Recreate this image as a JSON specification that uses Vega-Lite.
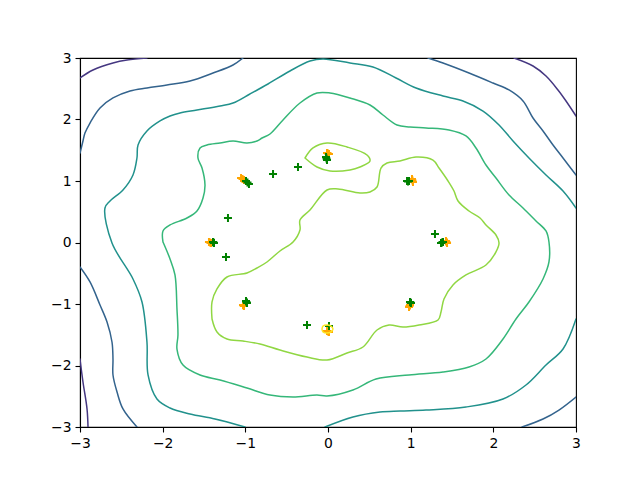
{
  "$schema": "https://vega.github.io/schema/vega-lite/v6.json",
  "width": 496,
  "height": 369,
  "autosize": {"type": "none"},
  "padding": {"left": 80, "top": 58, "right": 64, "bottom": 53},
  "background": "white",
  "config": {
    "view": {"stroke": "black", "strokeWidth": 1.1},
    "axis": {"grid": false, "domainColor": "black", "domainWidth": 1.1, "tickColor": "black", "tickWidth": 1.1, "tickSize": 5, "labelFont": "DejaVu Sans", "labelFontSize": 13.9, "labelColor": "black", "labelPadding": 4, "labelFlush": false, "labelOverlap": false}
  },
  "datasets": {
    "pts": [
      {"k":"o","x":-1.052,"y":1.049},{"k":"o","x":-1.034,"y":1.032},{"k":"o","x":-1.016,"y":1.016},
      {"k":"o","x":-0.012,"y":1.455},{"k":"o","x":0.0,"y":1.447},{"k":"o","x":0.012,"y":1.439},
      {"k":"o","x":1.016,"y":1.033},{"k":"o","x":1.022,"y":1.008},{"k":"o","x":1.028,"y":0.984},
      {"k":"o","x":1.427,"y":0.024},{"k":"o","x":1.434,"y":0.008},{"k":"o","x":1.440,"y":-0.008},
      {"k":"o","x":0.992,"y":-1.016},{"k":"o","x":0.986,"y":-1.032},{"k":"o","x":0.980,"y":-1.049},
      {"k":"o","x":-0.012,"y":-1.439},{"k":"o","x":0.0,"y":-1.447},{"k":"o","x":0.012,"y":-1.455},
      {"k":"o","x":-1.028,"y":-1.016},{"k":"o","x":-1.022,"y":-1.025},{"k":"o","x":-1.016,"y":-1.033},
      {"k":"o","x":-1.440,"y":0.008},{"k":"o","x":-1.428,"y":0.0},{"k":"o","x":-1.415,"y":-0.008},
      {"k":"g","x":-0.992,"y":1.0},{"k":"g","x":-0.974,"y":0.975},{"k":"g","x":-0.956,"y":0.951},
      {"k":"g","x":-0.024,"y":1.390},{"k":"g","x":-0.018,"y":1.365},{"k":"g","x":-0.012,"y":1.341},
      {"k":"g","x":0.956,"y":1.0},{"k":"g","x":0.968,"y":0.992},{"k":"g","x":0.980,"y":1.0},
      {"k":"g","x":1.367,"y":-0.008},{"k":"g","x":1.379,"y":0.0},{"k":"g","x":1.391,"y":0.008},
      {"k":"g","x":0.992,"y":-0.967},{"k":"g","x":0.998,"y":-0.975},{"k":"g","x":1.004,"y":-0.984},
      {"k":"g","x":0.012,"y":-1.358},
      {"k":"g","x":-0.992,"y":-0.951},{"k":"g","x":-0.986,"y":-0.967},{"k":"g","x":-0.980,"y":-0.984},
      {"k":"g","x":-1.391,"y":0.008},{"k":"g","x":-1.385,"y":0.0},{"k":"g","x":-1.379,"y":-0.008},
      {"k":"g","x":-0.665,"y":1.114},{"k":"g","x":-0.363,"y":1.228},
      {"k":"g","x":-1.21,"y":0.398},{"k":"g","x":-1.234,"y":-0.236},
      {"k":"g","x":1.294,"y":0.138},{"k":"g","x":-0.254,"y":-1.341}
    ],
    "cont": [
      {"s":"p1","l":"L1","i":0,"x":-3.0,"y":2.675},{"s":"p1","l":"L1","i":1,"x":-2.843,"y":2.805},{"s":"p1","l":"L1","i":2,"x":-2.601,"y":2.919},{"s":"p1","l":"L1","i":3,"x":-2.431,"y":2.967},{"s":"p1","l":"L1","i":4,"x":-2.190,"y":3.0},
      {"s":"p2","l":"L1","i":0,"x":2.250,"y":3.0},{"s":"p2","l":"L1","i":1,"x":2.480,"y":2.870},{"s":"p2","l":"L1","i":2,"x":2.637,"y":2.707},{"s":"p2","l":"L1","i":3,"x":2.782,"y":2.480},{"s":"p2","l":"L1","i":4,"x":2.879,"y":2.301},{"s":"p2","l":"L1","i":5,"x":3.0,"y":2.057},
      {"s":"p3","l":"L1","i":0,"x":-3.0,"y":-1.894},{"s":"p3","l":"L1","i":1,"x":-2.964,"y":-2.268},{"s":"p3","l":"L1","i":2,"x":-2.915,"y":-2.707},{"s":"p3","l":"L1","i":3,"x":-2.903,"y":-3.0},
      {"s":"b1","l":"L2","i":0,"x":-3.0,"y":1.455},{"s":"b1","l":"L2","i":1,"x":-2.964,"y":1.650},{"s":"b1","l":"L2","i":2,"x":-2.940,"y":1.780},{"s":"b1","l":"L2","i":3,"x":-2.879,"y":1.943},{"s":"b1","l":"L2","i":4,"x":-2.758,"y":2.187},{"s":"b1","l":"L2","i":5,"x":-2.601,"y":2.350},{"s":"b1","l":"L2","i":6,"x":-2.395,"y":2.463},{"s":"b1","l":"L2","i":7,"x":-2.190,"y":2.512},{"s":"b1","l":"L2","i":8,"x":-1.948,"y":2.561},{"s":"b1","l":"L2","i":9,"x":-1.669,"y":2.626},{"s":"b1","l":"L2","i":10,"x":-1.391,"y":2.756},{"s":"b1","l":"L2","i":11,"x":-1.149,"y":2.886},{"s":"b1","l":"L2","i":12,"x":-1.028,"y":3.0},
      {"s":"b2","l":"L2","i":0,"x":1.210,"y":3.0},{"s":"b2","l":"L2","i":1,"x":1.391,"y":2.919},{"s":"b2","l":"L2","i":2,"x":1.706,"y":2.756},{"s":"b2","l":"L2","i":3,"x":1.996,"y":2.593},{"s":"b2","l":"L2","i":4,"x":2.190,"y":2.480},{"s":"b2","l":"L2","i":5,"x":2.359,"y":2.301},{"s":"b2","l":"L2","i":6,"x":2.480,"y":2.024},{"s":"b2","l":"L2","i":7,"x":2.601,"y":1.813},{"s":"b2","l":"L2","i":8,"x":2.722,"y":1.585},{"s":"b2","l":"L2","i":9,"x":2.843,"y":1.374},{"s":"b2","l":"L2","i":10,"x":3.0,"y":1.098},
      {"s":"b3","l":"L2","i":0,"x":-3.0,"y":-0.398},{"s":"b3","l":"L2","i":1,"x":-2.879,"y":-0.642},{"s":"b3","l":"L2","i":2,"x":-2.758,"y":-1.016},{"s":"b3","l":"L2","i":3,"x":-2.673,"y":-1.293},{"s":"b3","l":"L2","i":4,"x":-2.613,"y":-1.618},{"s":"b3","l":"L2","i":5,"x":-2.601,"y":-1.894},{"s":"b3","l":"L2","i":6,"x":-2.601,"y":-2.154},{"s":"b3","l":"L2","i":7,"x":-2.552,"y":-2.431},{"s":"b3","l":"L2","i":8,"x":-2.480,"y":-2.707},{"s":"b3","l":"L2","i":9,"x":-2.311,"y":-3.0},
      {"s":"b4","l":"L2","i":0,"x":2.347,"y":-3.0},{"s":"b4","l":"L2","i":1,"x":2.601,"y":-2.870},{"s":"b4","l":"L2","i":2,"x":2.794,"y":-2.724},{"s":"b4","l":"L2","i":3,"x":3.0,"y":-2.512},
      {"s":"t1","l":"L3","i":0,"x":-1.004,"y":-3.0},{"s":"t1","l":"L3","i":1,"x":-1.367,"y":-2.870},{"s":"t1","l":"L3","i":2,"x":-1.669,"y":-2.789},{"s":"t1","l":"L3","i":3,"x":-1.911,"y":-2.691},{"s":"t1","l":"L3","i":4,"x":-2.069,"y":-2.545},{"s":"t1","l":"L3","i":5,"x":-2.177,"y":-2.154},{"s":"t1","l":"L3","i":6,"x":-2.190,"y":-1.618},{"s":"t1","l":"L3","i":7,"x":-2.250,"y":-0.967},{"s":"t1","l":"L3","i":8,"x":-2.359,"y":-0.593},{"s":"t1","l":"L3","i":9,"x":-2.613,"y":-0.008},{"s":"t1","l":"L3","i":10,"x":-2.698,"y":0.561},{"s":"t1","l":"L3","i":11,"x":-2.637,"y":0.675},{"s":"t1","l":"L3","i":12,"x":-2.480,"y":0.854},{"s":"t1","l":"L3","i":13,"x":-2.359,"y":1.098},{"s":"t1","l":"L3","i":14,"x":-2.311,"y":1.374},{"s":"t1","l":"L3","i":15,"x":-2.298,"y":1.585},{"s":"t1","l":"L3","i":16,"x":-2.190,"y":1.813},{"s":"t1","l":"L3","i":17,"x":-2.032,"y":1.976},{"s":"t1","l":"L3","i":18,"x":-1.911,"y":2.057},{"s":"t1","l":"L3","i":19,"x":-1.790,"y":2.106},{"s":"t1","l":"L3","i":20,"x":-1.585,"y":2.154},{"s":"t1","l":"L3","i":21,"x":-1.306,"y":2.220},{"s":"t1","l":"L3","i":22,"x":-1.149,"y":2.268},{"s":"t1","l":"L3","i":23,"x":-0.944,"y":2.415},{"s":"t1","l":"L3","i":24,"x":-0.726,"y":2.577},{"s":"t1","l":"L3","i":25,"x":-0.460,"y":2.789},{"s":"t1","l":"L3","i":26,"x":-0.218,"y":2.951},{"s":"t1","l":"L3","i":27,"x":-0.060,"y":2.984},{"s":"t1","l":"L3","i":28,"x":0.266,"y":2.919},{"s":"t1","l":"L3","i":29,"x":0.544,"y":2.854},{"s":"t1","l":"L3","i":30,"x":0.823,"y":2.675},{"s":"t1","l":"L3","i":31,"x":1.065,"y":2.512},{"s":"t1","l":"L3","i":32,"x":1.391,"y":2.382},{"s":"t1","l":"L3","i":33,"x":1.633,"y":2.301},{"s":"t1","l":"L3","i":34,"x":1.875,"y":2.138},{"s":"t1","l":"L3","i":35,"x":2.069,"y":1.911},{"s":"t1","l":"L3","i":36,"x":2.238,"y":1.650},{"s":"t1","l":"L3","i":37,"x":2.431,"y":1.374},{"s":"t1","l":"L3","i":38,"x":2.637,"y":1.098},{"s":"t1","l":"L3","i":39,"x":2.843,"y":0.837},{"s":"t1","l":"L3","i":40,"x":3.0,"y":0.561},
      {"s":"t2","l":"L3","i":0,"x":3.0,"y":-1.244},{"s":"t2","l":"L3","i":1,"x":2.843,"y":-1.732},{"s":"t2","l":"L3","i":2,"x":2.637,"y":-1.992},{"s":"t2","l":"L3","i":3,"x":2.395,"y":-2.317},{"s":"t2","l":"L3","i":4,"x":2.117,"y":-2.545},{"s":"t2","l":"L3","i":5,"x":1.669,"y":-2.675},{"s":"t2","l":"L3","i":6,"x":1.186,"y":-2.724},{"s":"t2","l":"L3","i":7,"x":0.871,"y":-2.740},{"s":"t2","l":"L3","i":8,"x":0.629,"y":-2.756},{"s":"t2","l":"L3","i":9,"x":0.302,"y":-2.837},{"s":"t2","l":"L3","i":10,"x":-0.036,"y":-3.0},
      {"s":"g1","l":"L4","i":0,"x":-1.996,"y":0.008},{"s":"g1","l":"L4","i":1,"x":-1.996,"y":0.187},{"s":"g1","l":"L4","i":2,"x":-1.911,"y":0.285},{"s":"g1","l":"L4","i":3,"x":-1.706,"y":0.398},{"s":"g1","l":"L4","i":4,"x":-1.585,"y":0.512},{"s":"g1","l":"L4","i":5,"x":-1.512,"y":0.724},{"s":"g1","l":"L4","i":6,"x":-1.488,"y":0.935},{"s":"g1","l":"L4","i":7,"x":-1.524,"y":1.211},{"s":"g1","l":"L4","i":8,"x":-1.573,"y":1.374},{"s":"g1","l":"L4","i":9,"x":-1.548,"y":1.537},{"s":"g1","l":"L4","i":10,"x":-1.464,"y":1.585},{"s":"g1","l":"L4","i":11,"x":-1.306,"y":1.618},{"s":"g1","l":"L4","i":12,"x":-1.149,"y":1.650},{"s":"g1","l":"L4","i":13,"x":-0.980,"y":1.618},{"s":"g1","l":"L4","i":14,"x":-0.859,"y":1.650},{"s":"g1","l":"L4","i":15,"x":-0.798,"y":1.699},{"s":"g1","l":"L4","i":16,"x":-0.702,"y":1.764},{"s":"g1","l":"L4","i":17,"x":-0.544,"y":1.992},{"s":"g1","l":"L4","i":18,"x":-0.339,"y":2.268},{"s":"g1","l":"L4","i":19,"x":-0.133,"y":2.431},{"s":"g1","l":"L4","i":20,"x":0.024,"y":2.431},{"s":"g1","l":"L4","i":21,"x":0.266,"y":2.350},{"s":"g1","l":"L4","i":22,"x":0.508,"y":2.236},{"s":"g1","l":"L4","i":23,"x":0.665,"y":2.073},{"s":"g1","l":"L4","i":24,"x":0.835,"y":1.911},{"s":"g1","l":"L4","i":25,"x":0.992,"y":1.878},{"s":"g1","l":"L4","i":26,"x":1.186,"y":1.862},{"s":"g1","l":"L4","i":27,"x":1.464,"y":1.829},{"s":"g1","l":"L4","i":28,"x":1.669,"y":1.732},{"s":"g1","l":"L4","i":29,"x":1.790,"y":1.537},{"s":"g1","l":"L4","i":30,"x":1.911,"y":1.260},{"s":"g1","l":"L4","i":31,"x":2.032,"y":1.049},{"s":"g1","l":"L4","i":32,"x":2.190,"y":0.772},{"s":"g1","l":"L4","i":33,"x":2.359,"y":0.561},{"s":"g1","l":"L4","i":34,"x":2.516,"y":0.350},{"s":"g1","l":"L4","i":35,"x":2.637,"y":0.187},{"s":"g1","l":"L4","i":36,"x":2.673,"y":0.008},{"s":"g1","l":"L4","i":37,"x":2.673,"y":-0.317},{"s":"g1","l":"L4","i":38,"x":2.601,"y":-0.593},{"s":"g1","l":"L4","i":39,"x":2.431,"y":-0.967},{"s":"g1","l":"L4","i":40,"x":2.274,"y":-1.244},{"s":"g1","l":"L4","i":41,"x":2.117,"y":-1.569},{"s":"g1","l":"L4","i":42,"x":1.911,"y":-1.894},{"s":"g1","l":"L4","i":43,"x":1.706,"y":-2.024},{"s":"g1","l":"L4","i":44,"x":1.391,"y":-2.106},{"s":"g1","l":"L4","i":45,"x":0.980,"y":-2.154},{"s":"g1","l":"L4","i":46,"x":0.581,"y":-2.220},{"s":"g1","l":"L4","i":47,"x":0.302,"y":-2.398},{"s":"g1","l":"L4","i":48,"x":-0.012,"y":-2.496},{"s":"g1","l":"L4","i":49,"x":-0.133,"y":-2.480},{"s":"g1","l":"L4","i":50,"x":-0.423,"y":-2.512},{"s":"g1","l":"L4","i":51,"x":-0.702,"y":-2.480},{"s":"g1","l":"L4","i":52,"x":-0.980,"y":-2.366},{"s":"g1","l":"L4","i":53,"x":-1.306,"y":-2.236},{"s":"g1","l":"L4","i":54,"x":-1.548,"y":-2.154},{"s":"g1","l":"L4","i":55,"x":-1.754,"y":-1.992},{"s":"g1","l":"L4","i":56,"x":-1.827,"y":-1.732},{"s":"g1","l":"L4","i":57,"x":-1.815,"y":-1.504},{"s":"g1","l":"L4","i":58,"x":-1.827,"y":-1.081},{"s":"g1","l":"L4","i":59,"x":-1.851,"y":-0.528},{"s":"g1","l":"L4","i":60,"x":-1.911,"y":-0.268},{"s":"g1","l":"L4","i":61,"x":-1.996,"y":0.008},
      {"s":"y1","l":"L5","i":0,"x":-0.278,"y":1.374},{"s":"y1","l":"L5","i":1,"x":-0.181,"y":1.537},{"s":"y1","l":"L5","i":2,"x":-0.012,"y":1.618},{"s":"y1","l":"L5","i":3,"x":0.230,"y":1.553},{"s":"y1","l":"L5","i":4,"x":0.472,"y":1.423},{"s":"y1","l":"L5","i":5,"x":0.508,"y":1.325},{"s":"y1","l":"L5","i":6,"x":0.387,"y":1.228},{"s":"y1","l":"L5","i":7,"x":0.266,"y":1.179},{"s":"y1","l":"L5","i":8,"x":0.024,"y":1.163},{"s":"y1","l":"L5","i":9,"x":-0.133,"y":1.228},{"s":"y1","l":"L5","i":10,"x":-0.278,"y":1.374},
      {"s":"y2","l":"L5","i":0,"x":-1.403,"y":-1.244},{"s":"y2","l":"L5","i":1,"x":-1.403,"y":-0.967},{"s":"y2","l":"L5","i":2,"x":-1.343,"y":-0.756},{"s":"y2","l":"L5","i":3,"x":-1.222,"y":-0.561},{"s":"y2","l":"L5","i":4,"x":-0.980,"y":-0.496},{"s":"y2","l":"L5","i":5,"x":-0.859,"y":-0.415},{"s":"y2","l":"L5","i":6,"x":-0.738,"y":-0.317},{"s":"y2","l":"L5","i":7,"x":-0.581,"y":-0.138},{"s":"y2","l":"L5","i":8,"x":-0.423,"y":0.008},{"s":"y2","l":"L5","i":9,"x":-0.339,"y":0.203},{"s":"y2","l":"L5","i":10,"x":-0.339,"y":0.366},{"s":"y2","l":"L5","i":11,"x":-0.218,"y":0.528},{"s":"y2","l":"L5","i":12,"x":-0.012,"y":0.854},{"s":"y2","l":"L5","i":13,"x":0.121,"y":0.870},{"s":"y2","l":"L5","i":14,"x":0.387,"y":0.805},{"s":"y2","l":"L5","i":15,"x":0.508,"y":0.821},{"s":"y2","l":"L5","i":16,"x":0.593,"y":0.902},{"s":"y2","l":"L5","i":17,"x":0.641,"y":1.211},{"s":"y2","l":"L5","i":18,"x":0.714,"y":1.293},{"s":"y2","l":"L5","i":19,"x":0.871,"y":1.325},{"s":"y2","l":"L5","i":20,"x":1.065,"y":1.390},{"s":"y2","l":"L5","i":21,"x":1.270,"y":1.341},{"s":"y2","l":"L5","i":22,"x":1.343,"y":1.211},{"s":"y2","l":"L5","i":23,"x":1.452,"y":1.0},{"s":"y2","l":"L5","i":24,"x":1.524,"y":0.837},{"s":"y2","l":"L5","i":25,"x":1.573,"y":0.675},{"s":"y2","l":"L5","i":26,"x":1.706,"y":0.512},{"s":"y2","l":"L5","i":27,"x":1.839,"y":0.398},{"s":"y2","l":"L5","i":28,"x":1.911,"y":0.285},{"s":"y2","l":"L5","i":29,"x":2.032,"y":0.122},{"s":"y2","l":"L5","i":30,"x":2.069,"y":-0.008},{"s":"y2","l":"L5","i":31,"x":2.032,"y":-0.154},{"s":"y2","l":"L5","i":32,"x":1.911,"y":-0.366},{"s":"y2","l":"L5","i":33,"x":1.669,"y":-0.528},{"s":"y2","l":"L5","i":34,"x":1.512,"y":-0.691},{"s":"y2","l":"L5","i":35,"x":1.403,"y":-0.919},{"s":"y2","l":"L5","i":36,"x":1.367,"y":-1.130},{"s":"y2","l":"L5","i":37,"x":1.331,"y":-1.260},{"s":"y2","l":"L5","i":38,"x":1.101,"y":-1.341},{"s":"y2","l":"L5","i":39,"x":0.907,"y":-1.374},{"s":"y2","l":"L5","i":40,"x":0.738,"y":-1.341},{"s":"y2","l":"L5","i":41,"x":0.593,"y":-1.423},{"s":"y2","l":"L5","i":42,"x":0.423,"y":-1.699},{"s":"y2","l":"L5","i":43,"x":0.230,"y":-1.797},{"s":"y2","l":"L5","i":44,"x":-0.012,"y":-1.911},{"s":"y2","l":"L5","i":45,"x":-0.254,"y":-1.862},{"s":"y2","l":"L5","i":46,"x":-0.581,"y":-1.748},{"s":"y2","l":"L5","i":47,"x":-0.823,"y":-1.650},{"s":"y2","l":"L5","i":48,"x":-1.028,"y":-1.602},{"s":"y2","l":"L5","i":49,"x":-1.222,"y":-1.569},{"s":"y2","l":"L5","i":50,"x":-1.343,"y":-1.455},{"s":"y2","l":"L5","i":51,"x":-1.403,"y":-1.244},
      {"s":"z1","l":"L6","i":0,"x":-0.073,"y":-1.407},{"s":"z1","l":"L6","i":1,"x":-0.060,"y":-1.358},{"s":"z1","l":"L6","i":2,"x":-0.012,"y":-1.341},{"s":"z1","l":"L6","i":3,"x":0.036,"y":-1.358},{"s":"z1","l":"L6","i":4,"x":0.060,"y":-1.407},{"s":"z1","l":"L6","i":5,"x":0.036,"y":-1.455},{"s":"z1","l":"L6","i":6,"x":-0.012,"y":-1.472},{"s":"z1","l":"L6","i":7,"x":-0.060,"y":-1.455},{"s":"z1","l":"L6","i":8,"x":-0.073,"y":-1.407}
    ]
  },
  "layer": [
    {
      "data": {"name": "pts"},
      "mark": {"type": "point", "shape": "M-1,0L1,0M0,-1L0,1", "filled": false, "strokeWidth": 2, "size": 64, "opacity": 1, "clip": true},
      "encoding": {
        "x": {"field": "x", "type": "quantitative", "scale": {"domain": [-3, 3], "nice": false, "zero": false}, "axis": {"values": [-3, -2, -1, 0, 1, 2, 3], "format": "d"}, "title": null},
        "y": {"field": "y", "type": "quantitative", "scale": {"domain": [-3, 3], "nice": false, "zero": false}, "axis": {"values": [-3, -2, -1, 0, 1, 2, 3], "format": "d"}, "title": null},
        "color": {"field": "k", "type": "nominal", "scale": {"domain": ["L1","L2","L3","L4","L5","L6","o","g"], "range": ["#453781","#33638d","#21918c","#35b779","#90d743","#fde725","#ffa500","#008000"]}, "legend": null}
      }
    },
    {
      "data": {"name": "cont"},
      "mark": {"type": "line", "strokeWidth": 1.5, "clip": true, "interpolate": "catmull-rom", "strokeJoin": "round", "strokeCap": "round"},
      "encoding": {
        "x": {"field": "x", "type": "quantitative"},
        "y": {"field": "y", "type": "quantitative"},
        "detail": {"field": "s", "type": "nominal"},
        "order": {"field": "i", "type": "quantitative"},
        "color": {"field": "l", "type": "nominal", "scale": {"domain": ["L1","L2","L3","L4","L5","L6","o","g"], "range": ["#453781","#33638d","#21918c","#35b779","#90d743","#fde725","#ffa500","#008000"]}, "legend": null}
      }
    }
  ]
}
